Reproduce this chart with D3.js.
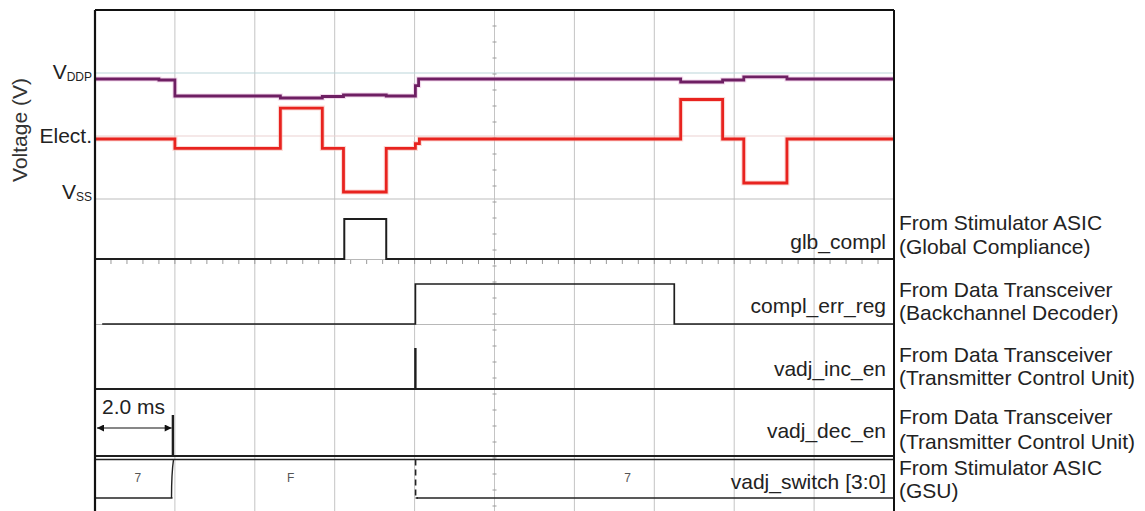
<!DOCTYPE html>
<html>
<head>
<meta charset="utf-8">
<script src="https://cdn.jsdelivr.net/npm/d3@7"></script>
<style>
  body { margin: 0; background: #fff; }
  svg { display: block; font-family: "Liberation Sans", Arial, sans-serif; }
</style>
</head>
<body>
<svg id="chart" width="1145" height="511"></svg>
<script>
// ---- time base (ms), 2.0 ms per division ----
const timeDomain = [0, 20];
const gridTimes = [2, 4, 6, 8, 10, 12, 14, 16, 18];

// ---- analog levels (normalised): V_DDP = 1, electrode = 0, V_SS = -1 ----
const levelValues = [1, 0, -1];
const levelMain = ["V", "Elect.", "V"];
const levelSub = ["DDP", "", "SS"];

// supply rail trace (step points: time ms, level)
const supplyTimes  = [0, 1.6, 2.0, 4.64, 5.69, 6.22, 7.29, 8.02, 8.1, 14.66, 15.71, 16.24, 17.32, 20];
const supplyValues = [0.905, 0.889, 0.635, 0.603, 0.627, 0.651, 0.635, 0.8, 0.905, 0.857, 0.889, 0.937, 0.905, 0.905];

// electrode voltage trace
const electTimes  = [0, 2.0, 4.64, 5.69, 6.22, 7.29, 8.02, 8.12, 14.66, 15.71, 16.24, 17.32, 20];
const electValues = [-0.048, -0.198, 0.444, -0.198, -0.889, -0.198, -0.12, -0.048, 0.579, -0.048, -0.746, -0.048, -0.048];

// ---- digital signals (time ms, logic level) ----
const glbTimes = [0, 6.24, 7.29, 20];
const glbValues = [0, 1, 0, 0];
const errTimes = [0.18, 8.02, 14.5, 20];
const errValues = [0, 1, 0, 0];
const incTimes = [0, 8.015, 8.025, 20];
const incValues = [0, 1, 0, 0];
const decTimes = [0, 1.945, 1.955, 20];
const decValues = [0, 1, 0, 0];

// bus vadj_switch[3:0]
const busStarts = [0, 2.0, 8.06];
const busEnds = [1.94, 8.0, 20];
const busValues = ["7", "F", "7"];

// signal names and sources
const signalNames = ["glb_compl", "compl_err_reg", "vadj_inc_en", "vadj_dec_en", "vadj_switch [3:0]"];
const sourceLine1 = ["From Stimulator ASIC", "From Data Transceiver", "From Data Transceiver", "From Data Transceiver", "From Stimulator ASIC"];
const sourceLine2 = ["(Global Compliance)", "(Backchannel Decoder)", "(Transmitter Control Unit)", "(Transmitter Control Unit)", "(GSU)"];

// ---------------- drawing ----------------
const svg = d3.select("#chart");
const X0 = 95, X1 = 894, TOP = 10, BOTTOM = 511;
const FS = 21;
const x = d3.scaleLinear().domain(timeDomain).range([X0, X1]);
const yA = d3.scaleLinear().domain([-1, 1]).range([199, 73]);

// row layout for digital panels: bottom pixel, label baseline, source baselines
const rows = [
  { bottom: 259, label: 249, src: [230, 254] },
  { bottom: 324, label: 313, src: [297, 320] },
  { bottom: 389, label: 376, src: [362, 385] },
  { bottom: 456, label: 438, src: [424, 449] },
  { bottom: 498, label: 489, src: [475, 498] }
];
const HIGH = 40;
const rowScale = r => d3.scaleLinear().domain([0, 1]).range([r.bottom, r.bottom - HIGH]);

// vertical grid
svg.append("g").selectAll("line").data(gridTimes).join("line")
  .attr("x1", d => x(d)).attr("x2", d => x(d))
  .attr("y1", TOP).attr("y2", BOTTOM)
  .attr("stroke", "#c4c4c4").attr("stroke-width", 1);

// horizontal reference lines in the analog panel
svg.append("line").attr("x1", X0).attr("x2", X1).attr("y1", yA(1)).attr("y2", yA(1))
  .attr("stroke", "#bcd6da").attr("stroke-width", 1.2);
svg.append("line").attr("x1", X0).attr("x2", X1).attr("y1", yA(0)).attr("y2", yA(0))
  .attr("stroke", "#ecd2d2").attr("stroke-width", 1.2);
svg.append("line").attr("x1", X0).attr("x2", X1).attr("y1", yA(-1)).attr("y2", yA(-1))
  .attr("stroke", "#bdbdbd").attr("stroke-width", 1.2);

// light row separators
svg.append("g").selectAll("line").data(rows.slice(0, 4)).join("line")
  .attr("x1", X0).attr("x2", X1)
  .attr("y1", d => d.bottom + 0.5).attr("y2", d => d.bottom + 0.5)
  .attr("stroke", "#b8b8b8").attr("stroke-width", 1);

// minor ticks on the centre lines
const tMinor = d3.range(0.4, 20, 0.4);
svg.append("g").selectAll("line").data(tMinor).join("line")
  .attr("x1", d => x(d)).attr("x2", d => x(d))
  .attr("y1", 260).attr("y2", 264)
  .attr("stroke", "#9a9a9a").attr("stroke-width", 1);
const yMinor = d3.range(TOP + 16, BOTTOM, 16);
svg.append("g").selectAll("line").data(yMinor).join("line")
  .attr("x1", x(10) - 2).attr("x2", x(10) + 2)
  .attr("y1", d => d).attr("y2", d => d)
  .attr("stroke", "#9a9a9a").attr("stroke-width", 1);

// analog traces
const stepLine = (ys) => d3.line().x(d => x(d[0])).y(d => ys(d[1])).curve(d3.curveStepAfter);
const supplyData = supplyTimes.map((t, i) => [t, supplyValues[i]]);
const electData = electTimes.map((t, i) => [t, electValues[i]]);

svg.append("path").datum(supplyData).attr("d", stepLine(yA))
  .attr("fill", "none").attr("stroke", "#e9b6dd").attr("stroke-width", 5).attr("opacity", 0.5);
svg.append("path").datum(supplyData).attr("d", stepLine(yA))
  .attr("fill", "none").attr("stroke", "#6e1f63").attr("stroke-width", 2.8);
svg.append("path").datum(electData).attr("d", stepLine(yA))
  .attr("fill", "none").attr("stroke", "#f7b7b0").attr("stroke-width", 5).attr("opacity", 0.5);
svg.append("path").datum(electData).attr("d", stepLine(yA))
  .attr("fill", "none").attr("stroke", "#e8231f").attr("stroke-width", 2.8);

// digital traces
const digital = [
  [glbTimes, glbValues],
  [errTimes, errValues],
  [incTimes, incValues],
  [decTimes, decValues]
];
digital.forEach(([ts, vs], i) => {
  const ys = rowScale(rows[i]);
  const data = ts.map((t, k) => [t, vs[k]]);
  svg.append("path").datum(data).attr("d", stepLine(ys))
    .attr("fill", "none").attr("stroke", "#1e1e1e")
    .attr("stroke-width", i === 1 ? 1.7 : 2);
});

// bus trace
const busTop = 459.5, busBot = 498;
const bus = svg.append("g").attr("stroke", "#222").attr("fill", "none");
bus.append("line").attr("x1", X0).attr("x2", X1).attr("y1", busTop).attr("y2", busTop).attr("stroke-width", 1.6);
busValues.forEach((v, i) => {
  const xa = x(busStarts[i]), xb = x(busEnds[i]);
  if (v !== "F") {
    bus.append("line").attr("x1", xa).attr("x2", xb).attr("y1", busBot).attr("y2", busBot).attr("stroke-width", 1.6);
  }
});
// transitions
bus.append("path")
  .attr("d", `M${x(busEnds[0]) + 1},${busTop} Q${x(busEnds[0]) - 1},${busTop + 14} ${x(busEnds[0]) - 1},${busBot}`)
  .attr("stroke-width", 1.4);
bus.append("line").attr("x1", x(busEnds[1]) + 1).attr("x2", x(busEnds[1]) + 1)
  .attr("y1", busTop).attr("y2", busBot).attr("stroke-width", 1.6).attr("stroke-dasharray", "6,4");
bus.append("line").attr("x1", x(busEnds[1]) + 1).attr("x2", x(busStarts[2]) + 1)
  .attr("y1", busBot).attr("y2", busBot).attr("stroke-width", 1.6);
svg.append("g").selectAll("text").data(busValues).join("text")
  .attr("x", (d, i) => x((busStarts[i] + busEnds[i]) / 2 + (i === 0 ? 0.1 : i === 1 ? -0.1 : -0.7)))
  .attr("y", 482).attr("text-anchor", "middle")
  .attr("font-size", 12).attr("fill", "#555").text(d => d);

// frame
const frame = svg.append("g").attr("stroke", "#111").attr("fill", "none");
frame.append("line").attr("x1", X0).attr("x2", X0).attr("y1", TOP).attr("y2", BOTTOM).attr("stroke-width", 2.2);
frame.append("line").attr("x1", X1).attr("x2", X1).attr("y1", TOP).attr("y2", BOTTOM).attr("stroke-width", 2);
frame.append("line").attr("x1", X0).attr("x2", X1).attr("y1", TOP).attr("y2", TOP).attr("stroke-width", 2);

// analog level labels
const labelDy = [6, 7, 0];
const lvl = svg.append("g").attr("fill", "#222").attr("font-size", FS).attr("text-anchor", "end");
levelValues.forEach((v, i) => {
  const t = lvl.append("text").attr("x", 92).attr("y", yA(v) + labelDy[i]);
  t.append("tspan").text(levelMain[i]);
  if (levelSub[i]) t.append("tspan").attr("font-size", 12).attr("dy", 2).text(levelSub[i]);
});
svg.append("text").attr("transform", "translate(27,130) rotate(-90)")
  .attr("text-anchor", "middle").attr("font-size", FS).attr("fill", "#333").text("Voltage (V)");

// signal names
svg.append("g").selectAll("text").data(signalNames).join("text")
  .attr("x", 886).attr("y", (d, i) => rows[i].label)
  .attr("text-anchor", "end").attr("font-size", FS).attr("fill", "#222").text(d => d);

// sources
const src = svg.append("g").attr("font-size", FS).attr("fill", "#222");
rows.forEach((r, i) => {
  src.append("text").attr("x", 899).attr("y", r.src[0]).text(sourceLine1[i]);
  src.append("text").attr("x", 899).attr("y", r.src[1]).text(sourceLine2[i]);
});

// time-base annotation
const defs = svg.append("defs");
["start", "end"].forEach(k => {
  defs.append("marker").attr("id", "arrow-" + k)
    .attr("viewBox", "0 0 10 10").attr("refX", k === "end" ? 10 : 0).attr("refY", 5)
    .attr("markerWidth", 9).attr("markerHeight", 7).attr("markerUnits", "userSpaceOnUse")
    .attr("orient", "auto")
    .append("path").attr("d", k === "end" ? "M0,0L10,5L0,10Z" : "M10,0L0,5L10,10Z").attr("fill", "#111");
});
svg.append("line").attr("x1", x(0) + 2).attr("x2", x(decTimes[1]) - 1)
  .attr("y1", 428).attr("y2", 428).attr("stroke", "#111").attr("stroke-width", 1.2)
  .attr("marker-start", "url(#arrow-start)").attr("marker-end", "url(#arrow-end)");
svg.append("text").attr("x", 102).attr("y", 414).attr("font-size", FS).attr("fill", "#222").text("2.0 ms");
</script>
</body>
</html>
